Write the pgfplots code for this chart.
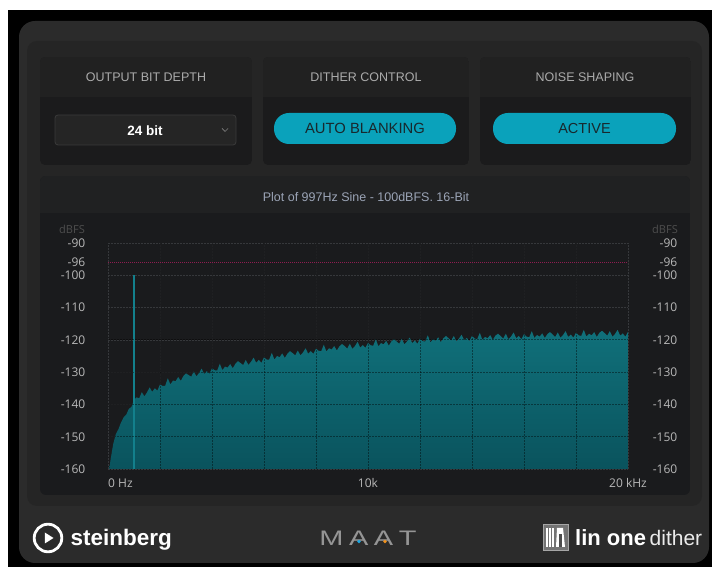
\documentclass[border=0pt]{standalone}
\usepackage{pgfplots}
\pgfplotsset{compat=1.18}
\usepackage{pgfplotstable}
\usepackage{graphicx}
\usepackage{fontspec}
\setmainfont{Liberation Sans}
\newfontfamily\tickfont{Open Sans}
\definecolor{outerpanel}{HTML}{2B2B2B}
\definecolor{innerpanel}{HTML}{252525}
\definecolor{boxhead}{HTML}{212121}
\definecolor{boxbody}{HTML}{1B1B1C}
\definecolor{plothead}{HTML}{202122}
\definecolor{plotbg}{HTML}{1A1B1D}
\definecolor{hdrtext}{HTML}{ABABAB}
\definecolor{ddfill}{HTML}{252525}
\definecolor{ddborder}{HTML}{3A3A3A}
\definecolor{btn}{HTML}{0AA2BB}
\definecolor{btntext}{HTML}{18282D}
\definecolor{titletext}{HTML}{9BA4B6}
\definecolor{tickc}{HTML}{B8B8B8}
\definecolor{dbfsc}{HTML}{4E4E4E}
\definecolor{gridc}{HTML}{36383B}
\definecolor{redl}{HTML}{8E1D50}
\definecolor{tealtop}{HTML}{10707A}
\definecolor{tealbot}{HTML}{0A535D}
\definecolor{spikec}{HTML}{13808C}
\definecolor{maatc}{HTML}{959595}
\definecolor{dotblue}{HTML}{1EA7E1}
\definecolor{dotorange}{HTML}{F0921E}
\pgfplotstableread{
f db
50 -160
100 -157
200 -152.3
300 -149.2
400 -147.7
500 -145.6
600 -144.0
700 -143.2
800 -141.4
900 -140.8
1000 -138.6
1100 -137.8
1200 -138.1
1300 -136.2
1400 -137.5
1500 -136.3
1600 -134.7
1700 -136.1
1800 -135.0
1900 -135.7
2000 -133.8
2100 -134.3
2200 -134.2
2300 -131.9
2400 -133.8
2500 -132.6
2600 -132.8
2700 -131.5
2800 -132.7
2900 -131.2
3000 -130.4
3100 -130.9
3200 -131.4
3300 -129.8
3400 -131.3
3500 -130.3
3600 -128.9
3700 -130.6
3800 -129.7
3900 -130.5
4000 -128.8
4100 -129.4
4200 -129.5
4300 -127.4
4400 -129.4
4500 -128.3
4600 -128.6
4700 -127.5
4800 -128.8
4900 -127.4
5000 -126.6
5100 -127.2
5200 -127.8
5300 -126.2
5400 -127.8
5500 -126.8
5600 -125.5
5700 -127.1
5800 -126.2
5900 -127.1
6000 -125.4
6100 -126.1
6200 -126.1
6300 -124.0
6400 -126.1
6500 -125.0
6600 -125.4
6700 -124.2
6800 -125.6
6900 -124.3
7000 -123.5
7100 -124.1
7200 -124.8
7300 -123.3
7400 -124.8
7500 -123.9
7600 -122.6
7700 -124.3
7800 -123.5
7900 -124.3
8000 -122.7
8100 -123.4
8200 -123.5
8300 -121.5
8400 -123.6
8500 -122.6
8600 -123.0
8700 -121.9
8800 -123.3
8900 -122.0
9000 -121.3
9100 -121.9
9200 -122.7
9300 -121.2
9400 -122.8
9500 -121.9
9600 -120.6
9700 -122.4
9800 -121.6
9900 -122.5
10000 -120.9
10100 -121.7
10200 -121.8
10300 -119.8
10400 -122.0
10500 -121.0
10600 -121.4
10700 -120.3
10800 -121.8
10900 -120.5
11000 -119.8
11100 -120.5
11200 -121.2
11300 -119.7
11400 -121.4
11500 -120.5
11600 -119.3
11700 -121.0
11800 -120.2
11900 -121.2
12000 -119.6
12100 -120.4
12200 -120.5
12300 -118.6
12400 -120.8
12500 -119.8
12600 -120.3
12700 -119.2
12800 -120.7
12900 -119.5
13000 -118.8
13100 -119.5
13200 -120.2
13300 -118.8
13400 -120.5
13500 -119.6
13600 -118.4
13700 -120.1
13800 -119.4
13900 -120.4
14000 -118.8
14100 -119.6
14200 -119.8
14300 -117.8
14400 -120.0
14500 -119.1
14600 -119.5
14700 -118.5
14800 -120.0
14900 -118.7
15000 -118.1
15100 -118.8
15200 -119.6
15300 -118.1
15400 -119.8
15500 -119.0
15600 -117.7
15700 -119.5
15800 -118.8
15900 -119.8
16000 -118.2
16100 -119.0
16200 -119.2
16300 -117.3
16400 -119.4
16500 -118.5
16600 -119.0
16700 -118.0
16800 -119.4
16900 -118.2
17000 -117.6
17100 -118.3
17200 -119.1
17300 -117.7
17400 -119.3
17500 -118.5
17600 -117.3
17700 -119.1
17800 -118.4
17900 -119.3
18000 -117.8
18100 -118.6
18200 -118.8
18300 -116.9
18400 -119.0
18500 -118.1
18600 -118.6
18700 -117.6
18800 -119.1
18900 -117.8
19000 -117.2
19100 -117.9
19200 -118.7
19300 -117.3
19400 -119.0
19500 -118.2
19600 -116.9
19700 -118.7
19800 -118.0
19900 -119.0
20000 -117.5
20000 -160
}\spectrum
\begin{document}
\begin{tikzpicture}[x=1pt,y=1pt]
\fill[white] (0,0) rectangle (712,567);
\begin{scope}[shift={(0,567)},yscale=-1]
  \fill[black] (8,10) rectangle (712,567);
  \fill[outerpanel, rounded corners=16pt] (19,21) rectangle (709,563);
  \fill[innerpanel, rounded corners=10pt] (27,41) rectangle (702,506);
  % top boxes
  \foreach \a/\b in {40/252,263/469,480/691}{
    \begin{scope}
      \clip[rounded corners=5pt] (\a,57) rectangle (\b,165);
      \fill[boxbody] (\a,57) rectangle (\b,165);
      \fill[boxhead] (\a,57) rectangle (\b,97);
    \end{scope}
  }
  \node[text=hdrtext, font=\fontsize{12.5}{14}\selectfont] at (146,77) {OUTPUT BIT DEPTH};
  \node[text=hdrtext, font=\fontsize{12.5}{14}\selectfont] at (366,77) {DITHER CONTROL};
  \node[text=hdrtext, font=\fontsize{12.5}{14}\selectfont] at (585,77) {NOISE SHAPING};
  % dropdown
  \draw[fill=ddfill, draw=ddborder, line width=0.8pt, rounded corners=3pt] (55,115) rectangle (236,145);
  \node[text=white, font=\fontsize{13.5}{15}\selectfont\bfseries] at (145,130.5) {24 bit};
  \draw[gray, line width=0.7pt] (222,128.5) -- (225,131.5) -- (228,128.5);
  % buttons
  \fill[btn, rounded corners=15pt] (274,113) rectangle (456,144);
  \fill[btn, rounded corners=15pt] (493,113) rectangle (676,144);
  \node[text=btntext, font=\fontsize{14.8}{16}\selectfont] at (365,128.5) {AUTO BLANKING};
  \node[text=btntext, font=\fontsize{14.5}{16}\selectfont] at (584.5,128.5) {ACTIVE};
  % plot box
  \begin{scope}
    \clip[rounded corners=6pt] (40,176) rectangle (690,495);
    \fill[plotbg] (40,176) rectangle (690,495);
    \fill[plothead] (40,176) rectangle (690,213);
  \end{scope}
  \node[text=titletext, font=\fontsize{12.5}{14}\selectfont] at (366,197) {Plot of 997Hz Sine - 100dBFS. 16-Bit};
  % footer
  \draw[white, line width=2.8pt] (48,538) circle (13.8);
  \fill[white] (44.8,532.5) -- (44.8,543.5) -- (53.5,538) -- cycle;
  \node[text=white, font=\fontsize{22.5}{24}\selectfont\bfseries, anchor=base west, inner sep=0pt] at (70.5,546) {steinberg};
  \node[text=maatc, font=\fontsize{21}{24}\selectfont, anchor=base, inner sep=0pt] at (368,546) {\scalebox{1.38}[1]{M\hspace{4pt}A\hspace{4pt}A\hspace{4pt}T}};
  \fill[dotblue] (359,541.5) circle (1.8);
  \fill[dotorange] (385,541.5) circle (1.8);
  \draw[fill=black!55, draw=black!35, line width=1pt] (543.5,524.5) rectangle (568.5,550.5);
  \foreach \xx in {547,550,553} \draw[white, line width=1.1pt] (\xx,528) -- (\xx,547);
  \fill[white] (557,528) -- (563,528) -- (565,547) -- (556,547) -- cycle;
  \fill[black!70] (559,534) rectangle (561.5,547);
  \node[text=white, font=\fontsize{22}{24}\selectfont\bfseries, anchor=base west, inner sep=0pt] at (575,546) {lin one};
  \node[text=white!92!black, font=\fontsize{21}{24}\selectfont, anchor=base west, inner sep=0pt] at (649.5,546) {dither};
\end{scope}

\begin{axis}[
  at={(108pt,98pt)}, anchor=south west,
  scale only axis, width=520pt, height=226pt,
  xmin=0, xmax=20000, ymin=-160, ymax=-90,
  axis line style={draw=none},
  scaled x ticks=false, scaled y ticks=false,
  xtick={0,2000,...,20000}, xticklabels={},
  ytick={-160,-150,-140,-130,-120,-110,-100,-90}, yticklabels={},
  major tick length=0pt,
  grid=major,
  major grid style={gridc, dash pattern=on 1.5pt off 1.5pt, line width=0.7pt},
  clip=false,
]
  \addplot[redl, dash pattern=on 1.2pt off 0.8pt, line width=1pt] coordinates {(0,-96) (20000,-96)};
  \addplot[draw=none, top color=tealtop, bottom color=tealbot] table[x=f, y=db] {\spectrum};
  \addplot[spikec, line width=1.6pt] coordinates {(997,-160) (997,-100)};
  \pgfplotsinvokeforeach{2000,4000,6000,8000,10000,12000,14000,16000,18000}{
    \draw[black, opacity=0.42, dash pattern=on 1.5pt off 1.5pt, line width=0.8pt] (axis cs:#1,-160) -- (axis cs:#1,-90);
  }
  \pgfplotsinvokeforeach{-150,-140,-130,-120}{
    \draw[black, opacity=0.42, dash pattern=on 1.5pt off 1.5pt, line width=0.8pt] (axis cs:0,#1) -- (axis cs:20000,#1);
  }
  \pgfplotsinvokeforeach{-160,-150,-140,-130,-120,-110,-100,-96,-90}{
    \node[anchor=east, inner sep=0pt, text=tickc, font=\tickfont\fontsize{12}{13}\selectfont] at (axis cs:0,#1) [xshift=-22.5pt] {#1};
    \node[anchor=east, inner sep=0pt, text=tickc, font=\tickfont\fontsize{12}{13}\selectfont] at (axis cs:20000,#1) [xshift=49.5pt] {#1};
  }
  \node[anchor=east, inner sep=0pt, text=dbfsc, font=\tickfont\fontsize{11}{12}\selectfont] at (axis cs:0,-85.7) [xshift=-23pt] {dBFS};
  \node[anchor=east, inner sep=0pt, text=dbfsc, font=\tickfont\fontsize{11}{12}\selectfont] at (axis cs:20000,-85.7) [xshift=50pt] {dBFS};
  \node[anchor=west, inner sep=0pt, text=tickc, font=\tickfont\fontsize{12}{13}\selectfont] at (axis cs:0,-160) [yshift=-14pt] {0 Hz};
  \node[anchor=center, inner sep=0pt, text=tickc, font=\tickfont\fontsize{12}{13}\selectfont] at (axis cs:10000,-160) [yshift=-14pt] {10k};
  \node[anchor=center, inner sep=0pt, text=tickc, font=\tickfont\fontsize{12}{13}\selectfont] at (axis cs:20000,-160) [yshift=-14pt] {20 kHz};
\end{axis}
\end{tikzpicture}
\end{document}
